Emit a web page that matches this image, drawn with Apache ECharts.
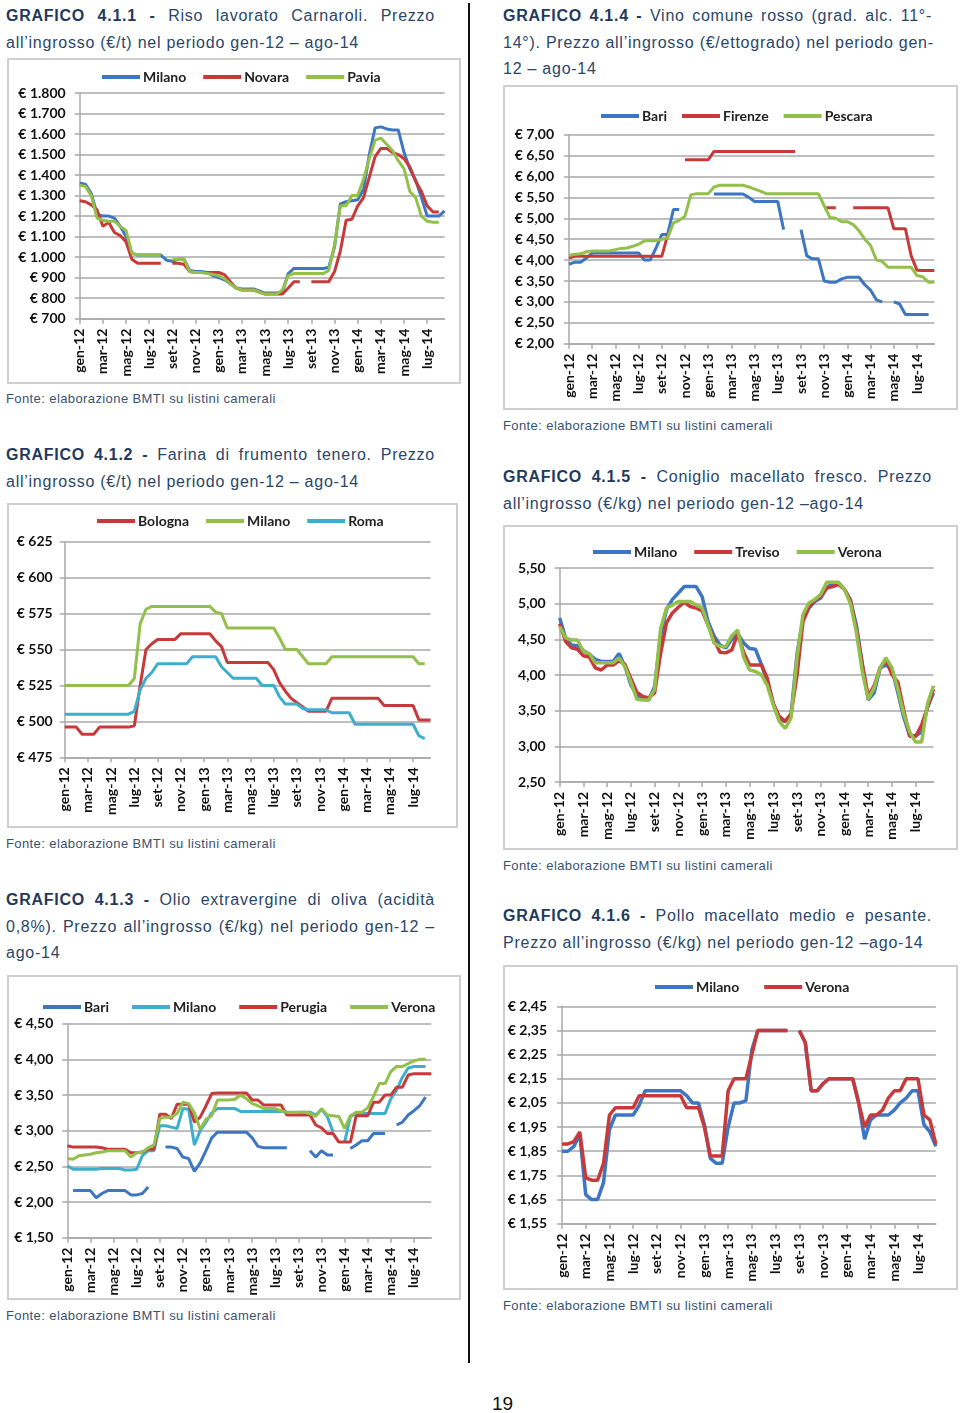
<!DOCTYPE html>
<html><head><meta charset="utf-8">
<script src="https://cdn.jsdelivr.net/npm/echarts@6/dist/echarts.min.js"></script>
<style>
html,body{margin:0;padding:0;background:#fff;}
body{width:960px;height:1413px;position:relative;overflow:hidden;font-family:'Liberation Sans',Arial,sans-serif;}
.t{position:absolute;font-size:16px;line-height:26.6px;color:#2a4669;letter-spacing:0.75px;width:429px;}
.t .j{text-align:justify;text-align-last:justify;white-space:nowrap;}
.t b{color:#1f3a5e;}
.f{position:absolute;font-size:13px;line-height:16px;color:#3a5272;letter-spacing:0.4px;white-space:nowrap;}
.frame{position:absolute;border:2px solid #cfcfcf;box-sizing:border-box;}
.ch{position:absolute;}
.vline{position:absolute;left:468px;top:3px;width:1.5px;height:1360px;background:#111;}
.pn{position:absolute;left:492px;top:1393px;font-size:19px;color:#111;}
</style></head><body>

<div class="t" style="left:6px;top:3px;"><div class="j"><b>GRAFICO 4.1.1 -</b> Riso lavorato Carnaroli. Prezzo</div><div>all’ingrosso (€/t) nel periodo gen-12 – ago-14</div></div>
<div class="frame" style="left:7px;top:58px;width:454px;height:326px;"></div>
<div class="ch" id="c1" style="left:7px;top:58px;width:454px;height:326px;"></div>
<div class="f" style="left:6px;top:391px;">Fonte: elaborazione BMTI su listini camerali</div>

<div class="t" style="left:6px;top:442px;"><div class="j"><b>GRAFICO 4.1.2 -</b> Farina di frumento tenero. Prezzo</div><div>all’ingrosso (€/t) nel periodo gen-12 – ago-14</div></div>
<div class="frame" style="left:7px;top:503px;width:451px;height:325px;"></div>
<div class="ch" id="c2" style="left:7px;top:503px;width:451px;height:325px;"></div>
<div class="f" style="left:6px;top:836px;">Fonte: elaborazione BMTI su listini camerali</div>

<div class="t" style="left:6px;top:887px;"><div class="j"><b>GRAFICO 4.1.3 -</b> Olio extravergine di oliva (acidità</div><div class="j">0,8%). Prezzo all’ingrosso (€/kg) nel periodo gen-12 –</div><div>ago-14</div></div>
<div class="frame" style="left:7px;top:975px;width:454px;height:325px;"></div>
<div class="ch" id="c3" style="left:7px;top:975px;width:454px;height:325px;"></div>
<div class="f" style="left:6px;top:1308px;">Fonte: elaborazione BMTI su listini camerali</div>

<div class="t" style="left:503px;top:3px;"><div class="j"><b>GRAFICO 4.1.4 -</b> Vino comune rosso (grad. alc. 11°-</div><div class="j">14°). Prezzo all’ingrosso (€/ettogrado) nel periodo gen-</div><div>12 – ago-14</div></div>
<div class="frame" style="left:503px;top:85px;width:455px;height:325px;"></div>
<div class="ch" id="c4" style="left:503px;top:85px;width:455px;height:325px;"></div>
<div class="f" style="left:503px;top:418px;">Fonte: elaborazione BMTI su listini camerali</div>

<div class="t" style="left:503px;top:464px;"><div class="j"><b>GRAFICO 4.1.5 -</b> Coniglio macellato fresco. Prezzo</div><div>all’ingrosso (€/kg) nel periodo gen-12 –ago-14</div></div>
<div class="frame" style="left:503px;top:525px;width:455px;height:325px;"></div>
<div class="ch" id="c5" style="left:503px;top:525px;width:455px;height:325px;"></div>
<div class="f" style="left:503px;top:858px;">Fonte: elaborazione BMTI su listini camerali</div>

<div class="t" style="left:503px;top:903px;"><div class="j"><b>GRAFICO 4.1.6 -</b> Pollo macellato medio e pesante.</div><div>Prezzo all’ingrosso (€/kg) nel periodo gen-12 –ago-14</div></div>
<div class="frame" style="left:503px;top:965px;width:455px;height:325px;"></div>
<div class="ch" id="c6" style="left:503px;top:965px;width:455px;height:325px;"></div>
<div class="f" style="left:503px;top:1298px;">Fonte: elaborazione BMTI su listini camerali</div>

<div class="vline"></div>
<div class="pn">19</div>

<script>
// ---- tick labels (months), each month sampled twice (half-month points) ----
const monthLabels = ['gen-12','feb-12','mar-12','apr-12','mag-12','giu-12','lug-12','ago-12','set-12','ott-12','nov-12','dic-12',
  'gen-13','feb-13','mar-13','apr-13','mag-13','giu-13','lug-13','ago-13','set-13','ott-13','nov-13','dic-13',
  'gen-14','feb-14','mar-14','apr-14','mag-14','giu-14','lug-14','ago-14'];
const categories = [];
monthLabels.forEach(m => { categories.push(m); categories.push(m + ' II'); });

// ---- GRAFICO 4.1.1 Riso (€/t) ----
const riceNames = ['Milano','Novara','Pavia'];
const riceMilano = [1360,1355,1310,1210,1200,1200,1190,1150, 1100,1020,1010,1010,1010,1010,1010,985, 980,990,990,935,930,930,925,910, 900,890,870,850,845,845,845,835, 825,825,825,830,920,945,945,945, 945,945,945,950,1050,1260,1270,1275, 1280,1330,1500,1630,1635,1625,1620,1620, 1510,1430,1375,1290,1200,1200,1200,1225];
const riceNovara = [1275,1270,1255,1230,1150,1170,1120,1105, 1075,990,970,970,970,970,970,null, 970,970,965,930,925,925,925,925, 925,915,880,850,840,840,840,830, 820,820,820,820,850,880,880,null, 880,880,880,880,930,1030,1180,1185, 1250,1290,1390,1490,1530,1530,1510,1500, 1480,1440,1370,1320,1250,1220,1220,null];
const ricePavia = [1350,1345,1300,1190,1180,1175,1175,1150, 1130,1020,1010,1010,1010,1010,1010,null, 990,990,990,930,925,925,920,915, 910,895,870,850,840,840,840,830, 820,820,820,840,910,920,920,920, 920,920,920,935,1060,1250,1250,1300, 1300,1380,1480,1570,1580,1550,1520,1470, 1430,1320,1290,1200,1175,1170,1170,null];

// ---- GRAFICO 4.1.2 Farina (€/t) ----
const flourNames = ['Bologna','Milano','Roma'];
const flourBologna = [496,496,496,491,491,491,496,496, 496,496,496,496,497,525,550,554, 557,557,557,557,561,561,561,561, 561,561,556,552,541,541,541,541, 541,541,541,541,536,527,521,516, 513,510,507,507,507,507,516,516, 516,516,516,516,516,516,516,511, 511,511,511,511,511,501,501,501];
const flourMilano = [525,525,525,525,525,525,525,525, 525,525,525,525,530,568,578,580, 580,580,580,580,580,580,580,580, 580,580,576,575,565,565,565,565, 565,565,565,565,565,558,550,550, 550,545,540,540,540,540,545,545, 545,545,545,545,545,545,545,545, 545,545,545,545,545,540,540,null];
const flourRoma = [505,505,505,505,505,505,505,505, 505,505,505,505,507,522,530,534, 540,540,540,540,540,540,545,545, 545,545,545,538,534,530,530,530, 530,530,525,525,525,517,512,512, 512,509,508,508,508,508,506,506, 506,506,498,498,498,498,498,498, 498,498,498,498,498,490,488,null];

// ---- GRAFICO 4.1.3 Olio (€/kg) ----
const oilNames = ['Bari','Milano','Perugia','Verona'];
const oilBari = [null,2.16,2.16,2.16,2.16,2.06,2.12,2.16, 2.16,2.16,2.16,2.10,2.10,2.12,2.21,null, null,2.77,2.77,2.75,2.63,2.61,2.43,2.55, 2.72,2.90,2.98,2.98,2.98,2.98,2.98,2.98, 2.90,2.78,2.76,2.76,2.76,2.76,2.76,null, null,null,2.72,2.63,2.72,2.66,2.66,null, null,2.75,2.80,2.86,2.86,2.96,2.96,2.96, null,3.08,3.12,3.22,3.28,3.35,3.47,null];
const oilMilano = [2.51,2.46,2.46,2.46,2.46,2.46,2.47,2.47, 2.47,2.47,2.45,2.45,2.46,2.65,2.72,2.72, 3.07,3.07,3.05,3.03,3.31,3.30,2.80,3.00, 3.12,3.25,3.31,3.31,3.31,3.31,3.27,3.27, 3.27,3.27,3.27,3.27,3.27,3.27,3.27,null, 3.26,3.26,3.26,3.22,3.30,3.20,2.98,null, 2.84,3.20,3.24,3.24,3.24,3.24,3.24,3.24, 3.45,3.57,3.75,3.88,3.90,3.90,3.90,null];
const oilPerugia = [2.79,2.77,2.77,2.77,2.77,2.77,2.76,2.74, 2.74,2.74,2.74,2.69,2.69,2.70,2.74,2.74, 3.23,3.23,3.17,3.37,3.37,3.37,3.12,3.19, 3.35,3.52,3.53,3.53,3.53,3.53,3.53,3.53, 3.43,3.43,3.36,3.36,3.36,3.36,3.22,3.22, 3.22,3.22,3.22,3.08,3.04,2.96,2.96,2.84, 2.84,2.84,3.21,3.21,3.21,3.40,3.40,3.50, 3.50,3.61,3.61,3.78,3.80,3.80,3.80,3.80];
const oilVerona = [2.61,2.60,2.65,2.66,2.67,2.69,2.70,2.72, 2.72,2.72,2.72,2.63,2.69,2.70,2.76,2.80, 3.17,3.19,3.19,3.24,3.40,3.38,3.25,3.02, 3.16,3.21,3.43,3.43,3.43,3.44,3.50,3.45, 3.38,3.35,3.31,3.31,3.31,3.28,3.26,3.26, 3.26,3.26,3.24,3.20,3.31,3.22,3.21,3.20, 3.03,3.21,3.26,3.26,3.32,3.48,3.66,3.66, 3.83,3.90,3.90,3.94,3.98,4.00,4.00,null];

// ---- GRAFICO 4.1.4 Vino (€/ettogrado) ----
const wineNames = ['Bari','Firenze','Pescara'];
const wineBari = [3.90,3.95,3.95,4.05,4.17,4.17,4.17,4.17, 4.17,4.17,4.17,4.17,4.17,4.00,4.00,4.29, 4.61,4.61,5.21,5.21,null,null,null,null, null,5.58,5.58,5.58,5.58,5.58,5.58,5.50, 5.40,5.40,5.40,5.40,5.40,4.73,null,null, 4.73,4.10,4.03,4.03,3.50,3.47,3.47,3.55, 3.59,3.59,3.59,3.41,3.28,3.05,3.00,null, 3.00,2.95,2.70,2.70,2.70,2.70,2.70,null];
const wineFirenze = [4.05,4.09,4.09,4.09,4.09,4.09,4.09,4.09, 4.09,4.09,4.09,4.09,4.09,4.09,4.09,4.09, 4.09,4.60,null,null,6.40,6.40,6.40,6.40, 6.40,6.60,6.60,6.60,6.60,6.60,6.60,6.60, 6.60,6.60,6.60,6.60,6.60,6.60,6.60,6.60, null,null,null,null,5.25,5.25,5.25,null, null,5.25,5.25,5.25,5.25,5.25,5.25,5.25, 4.75,4.75,4.75,4.10,3.76,3.75,3.75,3.75];
const winePescara = [4.11,4.14,4.15,4.20,4.22,4.22,4.22,4.22, 4.25,4.28,4.29,4.33,4.38,4.46,4.46,4.46, 4.50,4.53,4.89,4.95,5.05,5.56,5.59,5.59, 5.59,5.75,5.79,5.79,5.79,5.79,5.79,5.75, 5.70,5.65,5.59,5.59,5.59,5.59,5.59,5.59, 5.59,5.59,5.59,5.59,5.30,5.02,5.00,4.92, 4.92,4.85,4.70,4.50,4.35,4.00,3.97,3.83, 3.83,3.83,3.83,3.83,3.63,3.60,3.47,3.47];

// ---- GRAFICO 4.1.5 Coniglio (€/kg) ----
const rabbitNames = ['Milano','Treviso','Verona'];
const rabbitMilano = [4.80,4.52,4.42,4.41,4.34,4.29,4.22,4.19, 4.19,4.19,4.30,4.12,3.86,3.72,3.66,3.65, 3.84,4.55,4.92,5.06,5.15,5.24,5.24,5.24, 5.10,4.75,4.55,4.42,4.38,4.50,4.58,4.45, 4.37,4.36,4.15,3.90,3.60,3.37,3.35,3.45, 4.30,4.78,4.94,5.03,5.08,5.22,5.29,5.29, 5.20,5.05,4.70,4.15,3.65,3.75,4.10,4.14, 4.08,3.75,3.40,3.15,3.15,3.20,3.55,3.75];
const rabbitTreviso = [4.72,4.47,4.38,4.36,4.27,4.25,4.10,4.07, 4.14,4.14,4.20,4.15,3.95,3.76,3.70,3.68, 3.75,4.30,4.73,4.87,4.95,5.02,4.96,4.94, 4.90,4.70,4.50,4.32,4.31,4.35,4.58,4.32, 4.14,4.14,4.14,3.95,3.60,3.42,3.35,3.45, 4.00,4.75,4.95,5.05,5.10,5.22,5.24,5.27, 5.20,5.05,4.65,4.15,3.70,3.85,4.10,4.22, 4.00,3.90,3.50,3.14,3.14,3.30,3.55,3.80];
const rabbitVerona = [4.68,4.52,4.49,4.49,4.33,4.30,4.17,4.17, 4.17,4.17,4.24,4.12,3.90,3.66,3.65,3.65, 3.80,4.65,4.94,4.98,5.03,5.03,5.03,4.98, 4.94,4.70,4.45,4.40,4.40,4.55,4.63,4.25, 4.07,4.05,4.00,3.85,3.58,3.35,3.25,3.40, 4.25,4.85,5.01,5.06,5.13,5.30,5.30,5.30, 5.20,5.00,4.60,4.05,3.66,3.82,4.10,4.24, 4.10,3.80,3.45,3.20,3.06,3.06,3.60,3.85];

// ---- GRAFICO 4.1.6 Pollo (€/kg) ----
const chickenNames = ['Milano','Verona'];
const chickenMilano = [1.85,1.85,1.87,1.92,1.67,1.65,1.65,1.72, 1.94,2.00,2.00,2.00,2.00,2.04,2.10,2.10, 2.10,2.10,2.10,2.10,2.10,2.08,2.05,2.05, 1.96,1.82,1.80,1.80,1.95,2.05,2.05,2.06, 2.27,2.35,2.35,2.35,2.35,2.35,2.35,null, 2.35,2.30,2.10,2.10,2.13,2.15,2.15,2.15, 2.15,2.15,2.05,1.90,1.98,2.00,2.00,2.00, 2.02,2.05,2.07,2.10,2.10,1.96,1.93,1.87];
const chickenVerona = [1.88,1.88,1.89,1.93,1.74,1.73,1.73,1.80, 2.00,2.03,2.03,2.03,2.03,2.08,2.08,2.08, 2.08,2.08,2.08,2.08,2.08,2.03,2.03,2.03, 1.95,1.83,1.83,1.83,2.10,2.15,2.15,2.15, 2.25,2.35,2.35,2.35,2.35,2.35,2.35,null, 2.35,2.30,2.10,2.10,2.13,2.15,2.15,2.15, 2.15,2.15,2.05,1.95,2.00,2.00,2.02,2.07, 2.10,2.10,2.15,2.15,2.15,2.00,1.98,1.88];

const C = {blue:'#3d76c2', red:'#c83a3a', green:'#93bf4b', cyan:'#3eaecd'};
const FONT = 'Lato, "Open Sans", sans-serif';
const gridColor = '#a9a9a9';

function euroInt(v){ if (v >= 1000){ const r = String(v % 1000).padStart(3,'0'); return '€ ' + Math.floor(v/1000) + '.' + r; } return '€ ' + v; }
function euroDec(v){ return '€ ' + v.toFixed(2).replace('.', ','); }
function plainDec(v){ return v.toFixed(2).replace('.', ','); }

function makeChart(id, c){
  const chart = echarts.init(document.getElementById(id), null, {renderer:'canvas'});
  const showIdx = (i) => i % 4 === 0;
  chart.setOption({
    animation:false,
    textStyle:{fontFamily:FONT},
    legend:{left:c.legendLeft, top:c.legendTop, icon:'rect', itemWidth:38, itemHeight:4, itemGap:c.legendGap,
      textStyle:{fontFamily:FONT, fontSize:14, fontWeight:'bold', color:'#222', padding:[0,0,0,-2]}, data:c.names},
    grid:{left:c.grid[0], top:c.grid[1], right:c.grid[2], bottom:c.grid[3]},
    xAxis:{type:'category', data:categories, boundaryGap:false,
      axisLine:{lineStyle:{color:gridColor, width:1.5}},
      axisTick:{show:true, interval:(i)=>showIdx(i), length:5, lineStyle:{color:gridColor, width:1.5}},
      axisLabel:{interval:(i)=>showIdx(i), rotate:90, margin:10, fontFamily:FONT, fontSize:14, fontWeight:'bold', color:'#111'},
      splitLine:{show:false}},
    yAxis:{type:'value', min:c.min, max:c.max, interval:c.interval,
      axisLine:{show:true, lineStyle:{color:gridColor, width:1.5}},
      axisTick:{show:true, length:5, lineStyle:{color:gridColor, width:1.5}},
      splitLine:{lineStyle:{color:gridColor, width:1.5}},
      axisLabel:{formatter:c.fmt, margin:c.labelMargin, fontFamily:FONT, fontSize:14, fontWeight:'bold', color:'#111'}},
    series:c.names.map((n,k)=>({name:n, type:'line', data:c.data[k], symbol:'none', connectNulls:false,
      lineStyle:{width:c.lw, color:c.colors[k]}, itemStyle:{color:c.colors[k]}}))
  });
}

makeChart('c1', {names:riceNames, data:[riceMilano, riceNovara, ricePavia], colors:[C.blue,C.red,C.green],
  min:700, max:1800, interval:100, fmt:euroInt, labelMargin:14, grid:[72.7,35,16.4,65.3],
  legendLeft:90, legendTop:7, legendGap:17, lw:3});
makeChart('c2', {names:flourNames, data:[flourBologna, flourMilano, flourRoma], colors:[C.red,C.green,C.cyan],
  min:475, max:625, interval:25, fmt:euroInt, labelMargin:12, grid:[57.7,38.7,27.5,70.7],
  legendLeft:85, legendTop:6, legendGap:17, lw:3});
makeChart('c3', {names:oilNames, data:[oilBari, oilMilano, oilPerugia, oilVerona], colors:[C.blue,C.cyan,C.red,C.green],
  min:1.5, max:4.5, interval:0.5, fmt:euroDec, labelMargin:14, grid:[60.3,48.7,29.7,62.3],
  legendLeft:31, legendTop:20, legendGap:23, lw:3});
makeChart('c4', {names:wineNames, data:[wineBari, wineFirenze, winePescara], colors:[C.blue,C.red,C.green],
  min:2, max:7, interval:0.5, fmt:euroDec, labelMargin:15, grid:[66,49.7,23.6,66.3],
  legendLeft:93, legendTop:19, legendGap:15, lw:3});
makeChart('c5', {names:rabbitNames, data:[rabbitMilano, rabbitTreviso, rabbitVerona], colors:[C.blue,C.red,C.green],
  min:2.5, max:5.5, interval:0.5, fmt:plainDec, labelMargin:14, grid:[56.7,43,24.5,68],
  legendLeft:85, legendTop:15, legendGap:17, lw:3.5});
makeChart('c6', {names:chickenNames, data:[chickenMilano, chickenVerona], colors:[C.blue,C.red],
  min:1.55, max:2.45, interval:0.1, fmt:euroDec, labelMargin:15, grid:[59,41.3,22.2,66.3],
  legendLeft:147, legendTop:10, legendGap:25, lw:3.5});
</script>
</body></html>
